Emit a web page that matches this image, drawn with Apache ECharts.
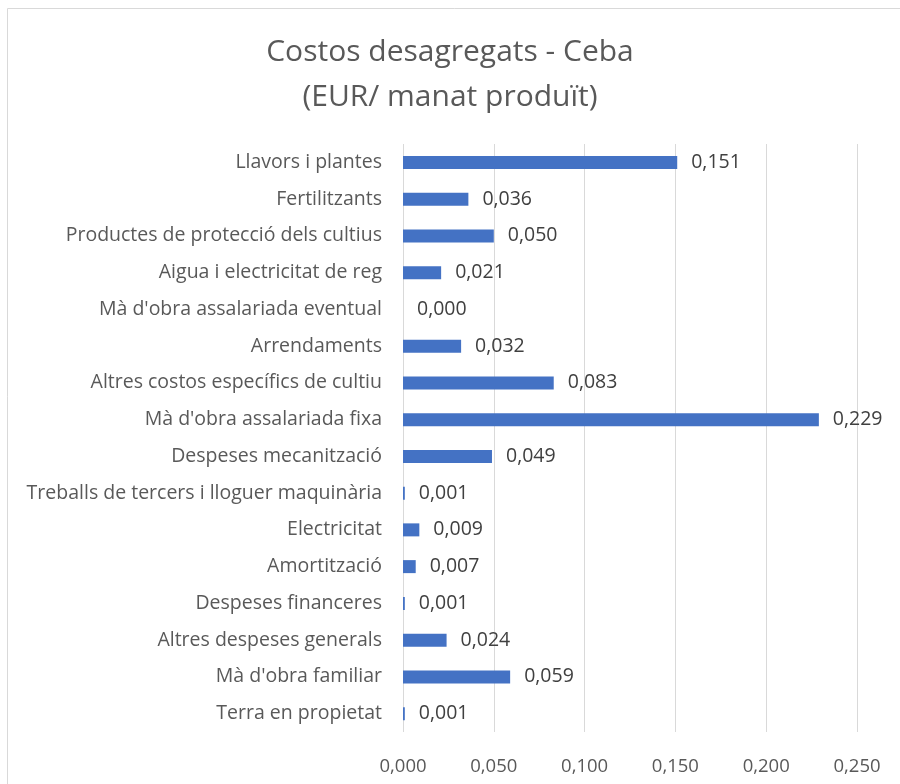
<!DOCTYPE html>
<html>
<head>
<meta charset="utf-8">
<script src="https://cdn.jsdelivr.net/npm/echarts@6/dist/echarts.min.js"></script>
<style>
	html, body { margin: 0; padding: 0; background: #fff; }
	#first { width: 900px; height: 784px; }
</style>
</head>
<body>
<div id="first"></div>
<script>
// categories from top to bottom as in the picture
var categories = [
	'Llavors i plantes',
	'Fertilitzants',
	'Productes de protecció dels cultius',
	'Aigua i electricitat de reg',
	"Mà d'obra assalariada eventual",
	'Arrendaments',
	'Altres costos específics de cultiu',
	"Mà d'obra assalariada fixa",
	'Despeses mecanització',
	'Treballs de tercers i lloguer maquinària',
	'Electricitat',
	'Amortització',
	'Despeses financeres',
	'Altres despeses generals',
	"Mà d'obra familiar",
	'Terra en propietat'
];
var costs = [0.151, 0.036, 0.050, 0.021, 0.000, 0.032, 0.083, 0.229, 0.049, 0.001, 0.009, 0.007, 0.001, 0.024, 0.059, 0.001];
var xTicks = [0, 0.05, 0.1, 0.15, 0.2, 0.25];

var font = '"Open Sans", sans-serif';
function fmt(v) {
	return v.toFixed(3).replace('.', ',');
}

var option = {
	animation: false,
	title: {
		text: 'Costos desagregats - Ceba\n(EUR/ manat produït)',
		left: 'center',
		top: 25,
		textStyle: {
			fontFamily: font,
			fontSize: 30,
			fontWeight: 'normal',
			color: '#595959',
			lineHeight: 45
		}
	},
	graphic: [{
		type: 'rect',
		shape: { x: 7.5, y: 8.5, width: 920, height: 800 },
		style: { fill: 'none', stroke: '#d9d9d9', lineWidth: 1 }
	}],
	grid: {
		left: 403,
		right: 43,
		top: 144,
		bottom: 52
	},
	xAxis: {
		type: 'value',
		min: xTicks[0],
		max: xTicks[xTicks.length - 1],
		interval: 0.05,
		axisLine: { show: false },
		axisTick: { show: false },
		axisLabel: {
			margin: 25,
			fontFamily: font,
			fontSize: 18.5,
			color: '#595959',
			formatter: function(v) { return fmt(v); }
		},
		splitLine: {
			lineStyle: { color: '#d9d9d9', width: 1 }
		}
	},
	yAxis: {
		type: 'category',
		inverse: true,
		data: categories,
		axisLine: { show: false },
		axisTick: { show: false },
		axisLabel: {
			margin: 21,
			fontFamily: font,
			fontSize: 19.5,
			color: '#595959'
		}
	},
	series: [{
		type: 'bar',
		silent: true,
		barWidth: 13,
		data: costs,
		itemStyle: { color: '#4472C4' },
		label: {
			show: true,
			position: 'right',
			distance: 14,
			fontFamily: font,
			fontSize: 19.5,
			color: '#404040',
			formatter: function(p) { return fmt(p.value); }
		}
	}]
};
var my = echarts.init(document.getElementById('first'));
my.setOption(option);
</script>
</body>
</html>
